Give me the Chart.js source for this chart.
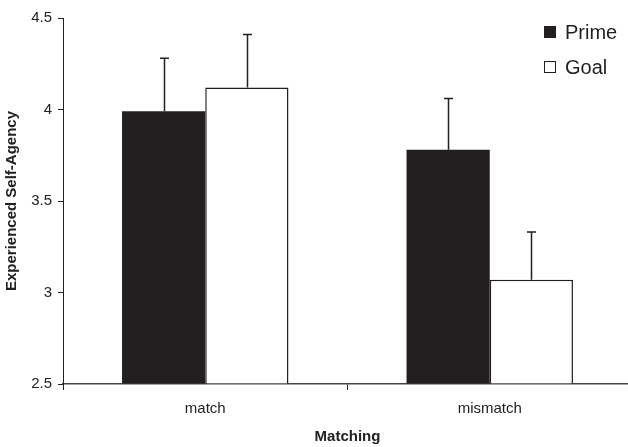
<!DOCTYPE html>
<html>
<head>
<meta charset="utf-8">
<script src="https://cdn.jsdelivr.net/npm/chart.js@4"></script>
<style>
  html, body { margin: 0; padding: 0; background: #fff; overflow: hidden; }
  #wrap { width: 634px; height: 447px; position: relative; }
</style>
</head>
<body>
<div id="wrap"><canvas id="c"></canvas></div>
<script>
// Experienced self-agency by matching condition
const categories = ['match', 'mismatch'];
const seriesNames = ['Prime', 'Goal'];
const primeMeans = [3.99, 3.78];
const goalMeans = [4.12, 3.07];
// upper error bar lengths (standard errors)
const primeErr = [0.29, 0.28];
const goalErr = [0.29, 0.26];
const yTicks = [2.5, 3, 3.5, 4, 4.5];

const INK = '#231f20';
const FONT = '"Liberation Sans", Arial, sans-serif';

// Upward-only error bars with a short cap
const errorBars = {
  id: 'errorBars',
  afterDatasetsDraw(chart) {
    const ctx = chart.ctx;
    const y = chart.scales.y;
    ctx.save();
    ctx.strokeStyle = INK;
    ctx.lineWidth = 1.5;
    chart.data.datasets.forEach((ds, i) => {
      const meta = chart.getDatasetMeta(i);
      meta.data.forEach((bar, j) => {
        const top = y.getPixelForValue(ds.data[j] + ds.errors[j]);
        const x = Math.round(bar.x) + 0.5;
        ctx.beginPath();
        ctx.moveTo(x, bar.y);
        ctx.lineTo(x, top);
        ctx.moveTo(x - 4.5, top);
        ctx.lineTo(x + 4.5, top);
        ctx.stroke();
      });
    });
    ctx.restore();
  }
};

// Two-row legend in the upper right corner
const cornerLegend = {
  id: 'cornerLegend',
  afterDraw(chart) {
    const ctx = chart.ctx;
    ctx.save();
    ctx.font = '20px ' + FONT;
    ctx.textBaseline = 'middle';
    chart.data.datasets.forEach((ds, i) => {
      const cy = 32 + i * 35;
      const bx = 544, size = 12;
      if (i === 0) {
        ctx.fillStyle = ds.backgroundColor;
        ctx.fillRect(bx, cy - size / 2, size, size);
      } else {
        ctx.fillStyle = '#fff';
        ctx.fillRect(bx, cy - size / 2, size, size);
        ctx.strokeStyle = INK;
        ctx.lineWidth = 1;
        ctx.strokeRect(bx + 0.5, cy - size / 2 + 0.5, size - 1, size - 1);
      }
      ctx.fillStyle = INK;
      ctx.fillText(ds.label, 565, cy + 1);
    });
    ctx.restore();
  }
};

new Chart(document.getElementById('c'), {
  type: 'bar',
  data: {
    labels: categories,
    datasets: [
      {
        label: seriesNames[0],
        data: primeMeans,
        errors: primeErr,
        backgroundColor: INK,
        borderWidth: 0
      },
      {
        label: seriesNames[1],
        data: goalMeans,
        errors: goalErr,
        backgroundColor: '#ffffff',
        borderColor: INK,
        borderWidth: { top: 1.5, left: 1.5, right: 1.5, bottom: 0 }
      }
    ]
  },
  options: {
    responsive: true,
    maintainAspectRatio: false,
    animation: false,
    devicePixelRatio: 1,
    layout: { padding: { top: 18, right: 2, left: 0, bottom: 0 } },
    datasets: {
      bar: { categoryPercentage: 0.585, barPercentage: 1.0, base: 2.5 }
    },
    plugins: {
      legend: { display: false },
      tooltip: { enabled: false }
    },
    scales: {
      x: {
        offset: true,
        border: { display: true, color: '#444', width: 1.5 },
        grid: {
          offset: true,
          drawOnChartArea: false,
          drawTicks: true,
          tickLength: 6,
          color: INK,
          lineWidth: 1
        },
        ticks: {
          color: '#222',
          font: { family: FONT, size: 15 },
          padding: 10
        },
        title: {
          display: true,
          text: 'Matching',
          color: '#222',
          font: { family: FONT, size: 15, weight: 'bold' },
          padding: { top: 0, bottom: 1 }
        }
      },
      y: {
        min: 2.5,
        max: 4.5,
        afterBuildTicks(scale) {
          scale.ticks = yTicks.map(v => ({ value: v }));
        },
        afterFit(scale) { scale.width = 63; },
        border: { display: true, color: INK, width: 1 },
        grid: {
          drawOnChartArea: false,
          drawTicks: true,
          tickLength: 5,
          color: INK
        },
        ticks: {
          color: '#222',
          font: { family: FONT, size: 15 },
          padding: 6,
          callback: v => String(v)
        },
        title: {
          display: true,
          text: 'Experienced Self-Agency',
          color: '#222',
          font: { family: FONT, size: 15, weight: 'bold' },
          padding: { top: 3, bottom: 0 }
        }
      }
    }
  },
  plugins: [errorBars, cornerLegend]
});
</script>
</body>
</html>
